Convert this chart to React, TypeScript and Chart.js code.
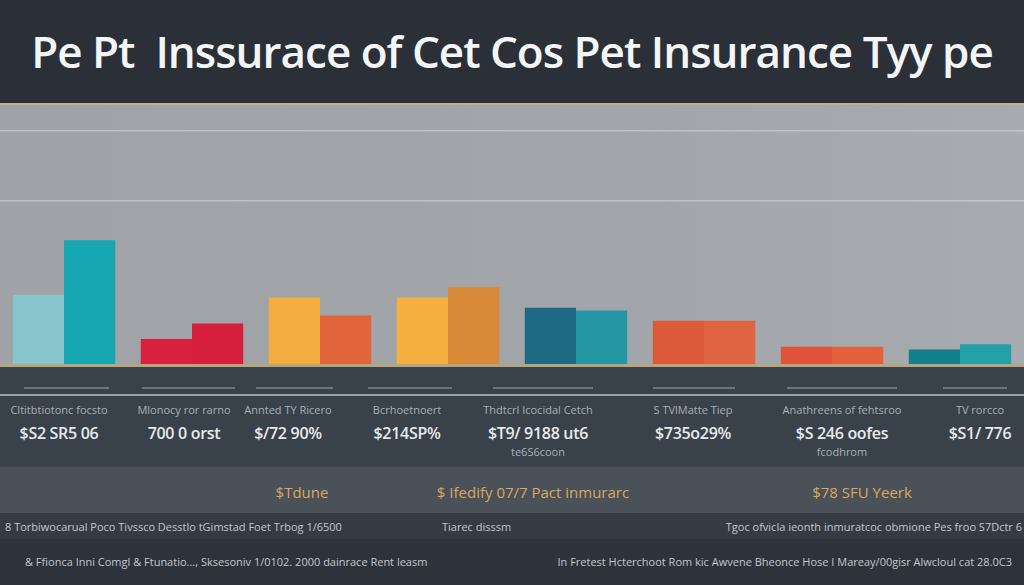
import React, { useEffect, useRef } from "react";
import { Chart, registerables } from "chart.js";

Chart.register(...registerables);

const TITLE = "Pe Pt  Inssurace of Cet Cos Pet Insurance Tyy pe";
const CATEGORIES = [
  "Cltitbtiotonc focsto",
  "Mlonocy ror rarno",
  "Annted TY Ricero",
  "Bcrhoetnoert",
  "Thdtcrl Icocidal Cetch",
  "S TVlMatte Tiep",
  "Anathreens of fehtsroo",
  "TV rorcco",
];
const VALUE_LABELS = [
  ["$S2 SR5 06"],
  ["700 0 orst"],
  ["$/72 90%"],
  ["$214SP%"],
  ["$T9/ 9188 ut6", "te6S6coon"],
  ["$735o29%"],
  ["$S 246 oofes", "fcodhrom"],
  ["$S1/ 776"],
];
const SERIES_A = [27, 10, 26, 26, 22, 17, 7, 6];
const SERIES_B = [48, 16, 19, 30, 21, 17, 7, 8];
const COLORS_A = ["#86c6cc", "#d8213e", "#f3ad3f", "#f5b040", "#1e6a85", "#dd5a38", "#e0523a", "#127f8d"];
const COLORS_B = ["#17a7b3", "#d61f3d", "#e2643a", "#d98b3a", "#2597a4", "#e0643f", "#e2613a", "#23a0a8"];
const GRID_VALUES = [63, 90];
const Y_MAX = 100;
const BAND_TEXTS = ["$Tdune", "$ Ifedify 07/7 Pact inmurarc", "$78 SFU Yeerk"];
const NOTE_ROW = [
  "8 Torbiwocarual Poco Tivssco Desstlo tGimstad Foet Trbog 1/6500",
  "Tiarec disssm",
  "Tgoc ofvicla ieonth inmuratcoc obmione Pes froo S7Dctr 6",
];
const FOOT_ROW = [
  "& Ffionca Inni Comgl & Ftunatio..., Sksesoniv 1/0102. 2000 dainrace Rent leasm",
  "In Fretest Hcterchoot Rom kic Awvene Bheonce Hose I Mareay/00gisr Alwcloul cat 28.0C3",
];

const LABEL_X = [59, 184, 288, 407, 538, 693, 842, 980];
const SEG = [[24, 109], [142, 235], [256, 333], [368, 452], [493, 593], [653, 735], [787, 897], [943, 1007]];
const BAND_X = [302, 533, 862];

const font = '"Open Sans", "Noto Sans", sans-serif';

export default function App() {
  const ref = useRef<HTMLCanvasElement>(null);
  useEffect(() => {
    document.body.style.margin = "0";
    const chart = new Chart(ref.current!, {
      type: "bar",
      data: {
        labels: CATEGORIES,
        datasets: [
          { label: "A", data: SERIES_A, backgroundColor: COLORS_A, borderWidth: 0 },
          { label: "B", data: SERIES_B, backgroundColor: COLORS_B, borderWidth: 0 },
        ],
      },
      options: {
        animation: false,
        responsive: false,
        maintainAspectRatio: false,
        layout: { padding: 0 },
        categoryPercentage: 0.8,
        barPercentage: 1.0,
        plugins: { legend: { display: false }, tooltip: { enabled: false }, title: { display: false } },
        scales: {
          x: { display: false },
          y: {
            min: 0,
            max: Y_MAX,
            display: true,
            border: { display: false },
            ticks: { display: false },
            grid: { color: "rgba(212,216,220,0.6)", lineWidth: 1.5, drawTicks: false },
            afterBuildTicks: (scale: any) => {
              scale.ticks = GRID_VALUES.map((v) => ({ value: v }));
            },
          },
        },
      } as any,
    });
    return () => chart.destroy();
  }, []);

  return (
    <div style={{ position: "relative", width: 1024, height: 585, overflow: "hidden", background: "#2d333b", fontFamily: font }}>
      <div style={{ position: "absolute", left: 0, top: 0, width: 1024, height: 103, background: "#2a2f38" }} />
      <div
        style={{
          position: "absolute",
          left: 0,
          top: 23,
          width: 1024,
          textAlign: "center",
          color: "#f4f5f6",
          fontSize: 44,
          fontWeight: 600,
          letterSpacing: -1,
          lineHeight: "56px",
          whiteSpace: "pre",
        }}
      >
        {TITLE}
      </div>
      <div style={{ position: "absolute", left: 0, top: 103, width: 1024, height: 2, background: "#bfae86" }} />
      <div
        style={{
          position: "absolute",
          left: 0,
          top: 105,
          width: 1024,
          height: 260,
          background: "linear-gradient(90deg, #9fa2a6 0%, #a2a5a9 60%, #a6a9ad 90%, #a8abaf 100%)",
        }}
      />
      <div style={{ position: "absolute", left: 0, top: 105, width: 1024, height: 260 }}>
        <canvas ref={ref} width={1024} height={260} style={{ display: "block" }} />
      </div>
      <div style={{ position: "absolute", left: 0, top: 364, width: 1024, height: 3, background: "#b7a67c" }} />
      <div style={{ position: "absolute", left: 0, top: 367, width: 1024, height: 100, background: "#39414a" }} />
      {SEG.map(([a, b], i) => (
        <div key={"s" + i} style={{ position: "absolute", left: a, top: 387, width: b - a, height: 2, background: "#6c747d" }} />
      ))}
      <div style={{ position: "absolute", left: 0, top: 394, width: 1024, height: 2, background: "#9aa1a8" }} />
      {CATEGORIES.map((c, i) => (
        <div key={"c" + i} style={{ position: "absolute", left: LABEL_X[i] - 80, width: 160, top: 402, textAlign: "center" }}>
          <div style={{ color: "#a9b0b8", fontSize: 11, lineHeight: "16px", whiteSpace: "nowrap" }}>{c}</div>
          <div style={{ color: "#e8eaec", fontSize: 16, fontWeight: 600, lineHeight: "24px", marginTop: 3, whiteSpace: "nowrap", letterSpacing: -0.3 }}>{VALUE_LABELS[i][0]}</div>
          {VALUE_LABELS[i][1] ? (
            <div style={{ color: "#a9b0b8", fontSize: 11, lineHeight: "13px", whiteSpace: "nowrap" }}>{VALUE_LABELS[i][1]}</div>
          ) : null}
        </div>
      ))}
      <div style={{ position: "absolute", left: 0, top: 467, width: 1024, height: 46, background: "#4b5159" }} />
      {BAND_TEXTS.map((t, i) => (
        <div key={"b" + i} style={{ position: "absolute", left: BAND_X[i] - 150, width: 300, top: 481, textAlign: "center", color: "#dba75c", fontSize: 15, lineHeight: "22px", whiteSpace: "nowrap" }}>
          {t}
        </div>
      ))}
      <div style={{ position: "absolute", left: 0, top: 513, width: 1024, height: 26, background: "#353b43" }} />
      <div style={{ position: "absolute", left: 5, top: 519, color: "#c3c7cc", fontSize: 11, lineHeight: "16px", whiteSpace: "nowrap" }}>{NOTE_ROW[0]}</div>
      <div style={{ position: "absolute", left: 442, top: 519, color: "#c3c7cc", fontSize: 11, lineHeight: "16px", whiteSpace: "nowrap" }}>{NOTE_ROW[1]}</div>
      <div style={{ position: "absolute", right: 2, top: 519, color: "#c3c7cc", fontSize: 11, lineHeight: "16px", whiteSpace: "nowrap" }}>{NOTE_ROW[2]}</div>
      <div style={{ position: "absolute", left: 25, top: 553, color: "#c3c7cc", fontSize: 11, lineHeight: "18px", whiteSpace: "nowrap" }}>{FOOT_ROW[0]}</div>
      <div style={{ position: "absolute", right: 12, top: 553, color: "#c3c7cc", fontSize: 11, lineHeight: "18px", whiteSpace: "nowrap" }}>{FOOT_ROW[1]}</div>
    </div>
  );
}
